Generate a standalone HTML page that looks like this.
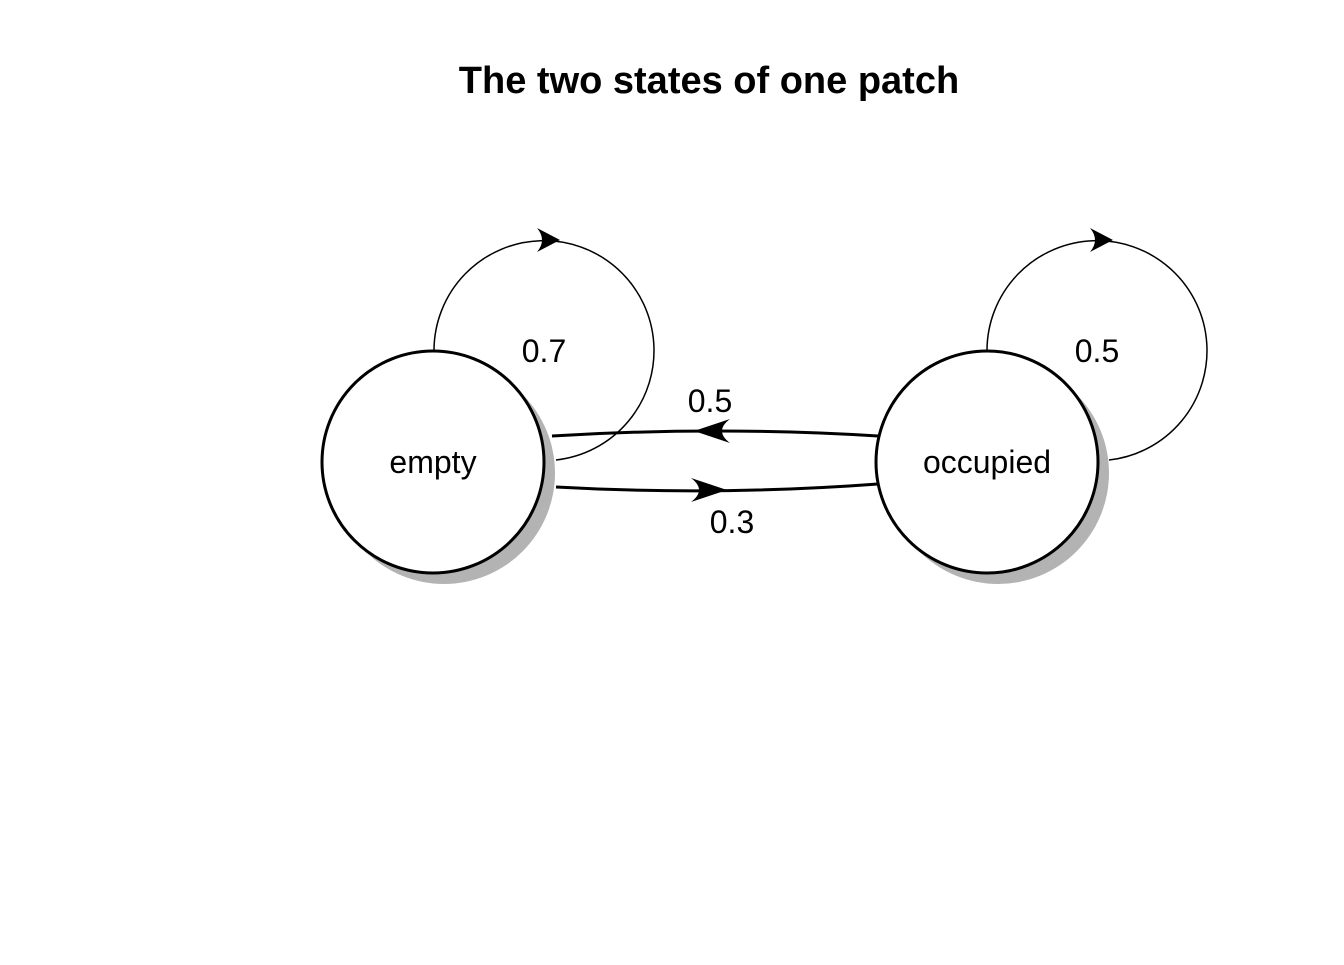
<!DOCTYPE html>
<html><head><style>html,body{margin:0;padding:0;background:#fff;}</style></head>
<body>
<svg width="1344" height="960" xmlns="http://www.w3.org/2000/svg" font-family="Liberation Sans, Arial, sans-serif">
<rect width="1344" height="960" fill="#fff"/>
<text x="709" y="93" font-size="38" font-weight="bold" text-anchor="middle">The two states of one patch</text>
<path d="M434,350 A110,110 0 1 1 556,460" fill="none" stroke="#000" stroke-width="1.5"/>
<path d="M987,350 A110,110 0 1 1 1109,460" fill="none" stroke="#000" stroke-width="1.5"/>
<path d="M560,240 L537,228 Q547,240 537,252 Z" fill="#000"/>
<path d="M1113,240 L1090,228 Q1100,240 1090,252 Z" fill="#000"/>
<circle cx="444" cy="473" r="111" fill="#b3b3b3"/>
<circle cx="998" cy="473" r="111" fill="#b3b3b3"/>
<path d="M552,436 Q715,426 878,436" fill="none" stroke="#000" stroke-width="3"/>
<path d="M556,487 Q717,496 878,484" fill="none" stroke="#000" stroke-width="3"/>
<path d="M694,431 L730,419 Q714,431 730,443 Z" fill="#000"/>
<path d="M727,490 L691,478 Q707,490 691,502 Z" fill="#000"/>
<circle cx="433" cy="462" r="111" fill="#fff" stroke="#000" stroke-width="3"/>
<circle cx="987" cy="462" r="111" fill="#fff" stroke="#000" stroke-width="3"/>
<g font-size="32" text-anchor="middle">
<text x="433" y="473">empty</text>
<text x="987" y="473">occupied</text>
<text x="544" y="362">0.7</text>
<text x="1097" y="362">0.5</text>
<text x="710" y="412">0.5</text>
<text x="732" y="533">0.3</text>
</g>
</svg>
</body></html>
